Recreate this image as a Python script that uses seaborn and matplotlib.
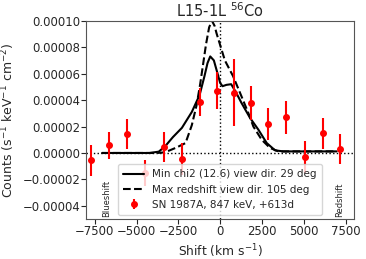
import matplotlib
matplotlib.use("Agg")
import matplotlib.pyplot as plt
import numpy as np
import pandas as pd
import seaborn as sns

# SN 1987A 847 keV line, +613d (shift in km/s, counts in s^-1 keV^-1 cm^-2)
obs_shift = [-7720, -6670, -5570, -4480, -3340, -2290, -1210, -200,
             800, 1830, 2850, 3940, 5070, 6130, 7160]
obs_flux = [-0.56e-5, 0.57e-5, 1.43e-5, -1.5e-5, 0.45e-5, -0.45e-5, 3.85e-5, 4.7e-5,
            4.57e-5, 3.77e-5, 2.2e-5, 2.7e-5, -0.33e-5, 1.5e-5, 0.32e-5]
obs_err = [1.2e-5, 1.0e-5, 1.13e-5, 1.0e-5, 1.1e-5, 1.2e-5, 1.07e-5, 1.4e-5,
           2.5e-5, 1.3e-5, 1.2e-5, 1.26e-5, 1.2e-5, 1.17e-5, 1.13e-5]

# model L15-1L, min chi2 view direction
minchi_shift = [-7060, -4235, -3670, -3295, -2825, -2287, -1695, -1225, -940, -755,
                -593, -376, -198, 0, 141, 376, 659, 941, 1270, 1788,
                2287, 2786, 3285, 3765, 6965]
minchi_flux = [0, 0, 0.1e-5, 0.5e-5, 1.2e-5, 1.9e-5, 3.1e-5, 4.4e-5, 5.8e-5, 6.8e-5,
               7.3e-5, 7.0e-5, 6.2e-5, 5.3e-5, 5.05e-5, 5.15e-5, 5.2e-5, 4.6e-5, 3.8e-5, 2.65e-5,
               1.76e-5, 0.75e-5, 0.2e-5, 0.12e-5, 0.12e-5]

# model L15-1L, max redshift view direction
maxred_shift = [-7060, -3765, -3295, -2635, -2070, -1695, -1412, -1195, -847, -659,
                -490, -330, -216, 282, 776, 1270, 1769, 1986, 2485, 2983,
                3482, 6965]
maxred_flux = [0, 0, 0.05e-5, 0.4e-5, 0.75e-5, 2.1e-5, 3.6e-5, 5.2e-5, 8.2e-5, 9.5e-5,
               10.0e-5, 9.6e-5, 9.05e-5, 7.0e-5, 5.8e-5, 4.3e-5, 2.76e-5, 2.0e-5, 1.0e-5, 0.38e-5,
               0.12e-5, 0.12e-5]

sns.set_style("ticks")
plt.rcParams["font.family"] = ["DejaVu Sans"]

fig = plt.figure(figsize=(3.66, 2.59), dpi=100)
ax = fig.add_axes([0.236, 0.154, 0.731, 0.766])

ax.axhline(0, color="k", ls=":", lw=1)
ax.axvline(0, color="k", ls=":", lw=1)

sns.lineplot(x=minchi_shift, y=minchi_flux, ax=ax, color="k", lw=1.5,
             label="Min chi2 (12.6) view dir. 29 deg")
sns.lineplot(x=maxred_shift, y=maxred_flux, ax=ax, color="k", lw=1.5, ls="--",
             label="Max redshift view dir. 105 deg")
ax.errorbar(obs_shift, obs_flux, yerr=obs_err, fmt="o", color="red", ms=4,
            elinewidth=1.5, label="SN 1987A, 847 keV, +613d")

ax.text(-6760, -4.85e-5, "Blueshift", rotation=90, fontsize=6, ha="center", va="bottom")
ax.text(7130, -4.85e-5, "Redshift", rotation=90, fontsize=6, ha="center", va="bottom")

ax.set_xlim(-8000, 8000)
ax.set_ylim(-0.00005, 0.0001)
ax.set_xticks([-7500, -5000, -2500, 0, 2500, 5000, 7500])
ax.set_yticks([-0.00004, -0.00002, 0, 0.00002, 0.00004, 0.00006, 0.00008, 0.0001])
ax.set_yticklabels(["\u22120.00004", "\u22120.00002", "0.00000", "0.00002",
                    "0.00004", "0.00006", "0.00008", "0.00010"])
ax.tick_params(labelsize=8.4, length=3.5, width=0.8, pad=0.8)
for s in ax.spines.values():
    s.set_linewidth(0.8)
    s.set_color("#555555")

ax.set_xlabel("Shift (km s$^{-1}$)", fontsize=8.8, labelpad=3)
ax.set_ylabel("Counts (s$^{-1}$ keV$^{-1}$ cm$^{-2}$)", fontsize=9, labelpad=4)
ax.set_title("L15-1L $^{56}$Co", fontsize=10.5, pad=3)

ax.legend(loc="lower center", fontsize=7.5, frameon=True, borderaxespad=0.4,
          borderpad=0.5, handlelength=2.0, labelspacing=0.5)

fig.savefig("out.png", dpi=100)
